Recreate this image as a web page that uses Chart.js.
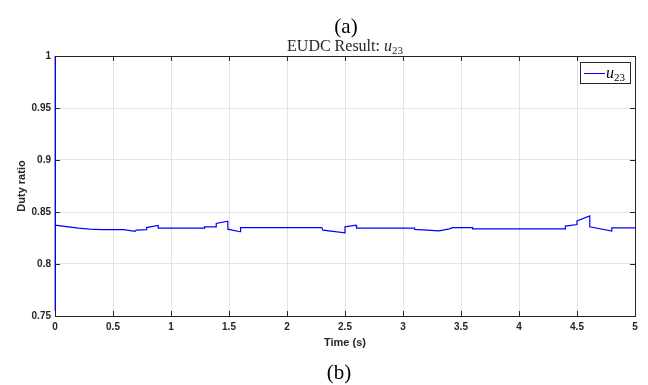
<!DOCTYPE html>
<html>
<head>
<meta charset="utf-8">
<title>EUDC Result u23</title>
<script src="https://cdn.jsdelivr.net/npm/chart.js@4.4.1/dist/chart.umd.min.js"></script>
<style>
  html, body { margin: 0; padding: 0; background: #fff; }
  #wrap { position: relative; width: 648px; height: 385px; }
</style>
</head>
<body>
<div id="wrap"><canvas id="myChart" width="648" height="385"></canvas></div>
<script>
// time (s) and duty ratio vertices
const timeS = [0, 0, 0.003, 0.2, 0.3, 0.4, 0.59, 0.69, 0.70, 0.79, 0.79, 0.89, 0.89, 1.29, 1.29, 1.39, 1.39, 1.49, 1.49, 1.595, 1.6,
  2.30, 2.31, 2.5, 2.5, 2.595, 2.6, 3.10, 3.10, 3.31, 3.40, 3.43, 3.60, 3.60, 4.40, 4.40, 4.50, 4.50, 4.61, 4.61, 4.80, 4.80, 5.0];
const u23 = [0.755, 1.0, 0.8373, 0.8345, 0.8335, 0.833, 0.833, 0.8313, 0.8325, 0.833, 0.835, 0.837, 0.8345, 0.8345, 0.8357, 0.8357, 0.839, 0.8412, 0.8335, 0.831, 0.835,
  0.835, 0.8325, 0.830, 0.8357, 0.8373, 0.8345, 0.8345, 0.8332, 0.8319, 0.8338, 0.835, 0.835, 0.8338, 0.8338, 0.8364, 0.838, 0.8415, 0.8463, 0.8357, 0.8316, 0.8348, 0.8348];

const xTickValues = [0, 0.5, 1, 1.5, 2, 2.5, 3, 3.5, 4, 4.5, 5];
const xTickLabels = ["0", "0.5", "1", "1.5", "2", "2.5", "3", "3.5", "4", "4.5", "5"];
const yTickValues = [0.75, 0.8, 0.85, 0.9, 0.95, 1];
const yTickLabels = ["0.75", "0.8", "0.85", "0.9", "0.95", "1"];

const axisColor = "#262626";
const gridColor = "#e3e3e3";
const serif = "'Liberation Serif', 'Times New Roman', serif";
const sans = "'Liberation Sans', Arial, sans-serif";

// MATLAB style box: ticks pointing inward on all four sides
const boxTicks = {
  id: "boxTicks",
  beforeDatasetsDraw(chart) {
    const { ctx, chartArea: a, scales: { x, y } } = chart;
    ctx.save();
    ctx.strokeStyle = axisColor;
    ctx.lineWidth = 1;
    ctx.beginPath();
    x.ticks.forEach(t => {
      const px = Math.round(x.getPixelForValue(t.value)) + 0.5;
      ctx.moveTo(px, a.bottom); ctx.lineTo(px, a.bottom - 5);
      ctx.moveTo(px, a.top); ctx.lineTo(px, a.top + 5);
    });
    y.ticks.forEach(t => {
      const py = Math.round(y.getPixelForValue(t.value)) + 0.5;
      ctx.moveTo(a.left, py); ctx.lineTo(a.left + 5, py);
      ctx.moveTo(a.right, py); ctx.lineTo(a.right - 5, py);
    });
    ctx.stroke();
    ctx.strokeRect(Math.round(a.left) + 0.5, Math.round(a.top) + 0.5,
      Math.round(a.right - a.left), Math.round(a.bottom - a.top));
    ctx.restore();
  },
  afterDraw(chart) {
    const { ctx, chartArea: a } = chart;
    const cx = (a.left + a.right) / 2;
    ctx.save();
    ctx.fillStyle = "#000";
    ctx.textBaseline = "alphabetic";

    // panel captions
    ctx.textAlign = "center";
    ctx.font = "21px " + serif;
    ctx.fillText("(a)", cx + 1, 33);
    ctx.fillText("(b)", cx - 6, 379);

    // title with subscript
    ctx.textAlign = "left";
    const part1 = "EUDC Result: ";
    ctx.font = "16px " + serif;
    const w1 = ctx.measureText(part1).width;
    ctx.font = "italic 16px " + serif;
    const w2 = ctx.measureText("u").width;
    ctx.font = "11px " + serif;
    const w3 = ctx.measureText("23").width;
    let tx = cx - (w1 + w2 + w3) / 2;
    ctx.fillStyle = axisColor;
    ctx.font = "16px " + serif;
    ctx.fillText(part1, tx, 51);
    tx += w1;
    ctx.font = "italic 16px " + serif;
    ctx.fillText("u", tx, 51);
    tx += w2;
    ctx.font = "11px " + serif;
    ctx.fillText("23", tx, 54);

    // legend box
    ctx.fillStyle = "#fff";
    ctx.fillRect(580, 62, 51, 22);
    ctx.strokeStyle = axisColor;
    ctx.lineWidth = 1;
    ctx.strokeRect(580.5, 62.5, 50, 21);
    ctx.strokeStyle = "#0000ff";
    ctx.beginPath();
    ctx.moveTo(584, 73.5);
    ctx.lineTo(605, 73.5);
    ctx.stroke();
    ctx.fillStyle = "#000";
    ctx.font = "italic 16px " + serif;
    ctx.fillText("u", 606, 77.5);
    ctx.font = "11px " + serif;
    ctx.fillText("23", 614, 81);
    ctx.restore();
  }
};

const points = timeS.map((t, i) => ({ x: t, y: u23[i] }));

new Chart(document.getElementById("myChart").getContext("2d"), {
  type: "line",
  data: {
    datasets: [{
      label: "u23",
      data: points,
      borderColor: "#0000ff",
      backgroundColor: "#0000ff",
      borderWidth: 1.2,
      pointRadius: 0,
      tension: 0,
      fill: false,
      clip: 3
    }]
  },
  options: {
    responsive: false,
    animation: false,
    layout: { padding: { left: 0, right: 13, top: 56, bottom: 29 } },
    plugins: {
      legend: { display: false },
      tooltip: { enabled: false },
      title: { display: false }
    },
    scales: {
      x: {
        type: "linear",
        min: 0,
        max: 5,
        afterBuildTicks: s => { s.ticks = xTickValues.map(v => ({ value: v })); },
        afterFit: s => { s.height = 40; },
        grid: { color: gridColor, drawTicks: false },
        border: { color: axisColor, width: 1 },
        ticks: {
          color: axisColor,
          padding: 5,
          maxRotation: 0,
          autoSkip: false,
          font: { family: sans, size: 10, weight: "bold" },
          callback: (v, i) => xTickLabels[i]
        },
        title: {
          display: true,
          text: "Time (s)",
          color: axisColor,
          padding: { top: 0, bottom: 6 },
          font: { family: sans, size: 11, weight: "bold" }
        }
      },
      y: {
        min: 0.75,
        max: 1,
        afterBuildTicks: s => { s.ticks = yTickValues.map(v => ({ value: v })); },
        afterFit: s => { s.width = 55; },
        grid: { color: gridColor, drawTicks: false },
        border: { color: axisColor, width: 1 },
        ticks: {
          color: axisColor,
          padding: 4,
          autoSkip: false,
          font: { family: sans, size: 10, weight: "bold" },
          callback: (v, i) => yTickLabels[i]
        },
        title: {
          display: true,
          text: "Duty ratio",
          color: axisColor,
          padding: { top: 15, bottom: 0 },
          font: { family: sans, size: 11, weight: "bold" }
        }
      }
    }
  },
  plugins: [boxTicks]
});
</script>
</body>
</html>
